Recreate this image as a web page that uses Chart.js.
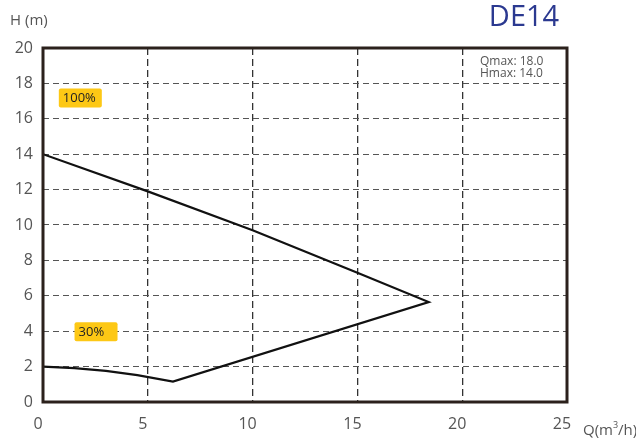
<!DOCTYPE html>
<html>
<head>
<meta charset="utf-8">
<script src="https://cdn.jsdelivr.net/npm/chart.js@4"></script>
<style>
  html, body { margin: 0; padding: 0; background: #fff; }
  #wrap { width: 636px; height: 439px; position: relative; }
</style>
</head>
<body>
<div id="wrap"><canvas id="chart"></canvas></div>
<script>
// pump curve (Q in m3/h, H in m)
const flowQ = [0, 5, 10, 15, 18.4, 6.2, 4.5, 3, 1.5, 0];
const headH = [14, 11.9, 9.7, 7.3, 5.65, 1.15, 1.52, 1.76, 1.91, 2];

const xTicks = [0, 5, 10, 15, 20, 25];
const yTicks = [0, 2, 4, 6, 8, 10, 12, 14, 16, 18, 20];

const speedLabels = ['100%', '30%'];
const speedQ = [0.85, 1.6];
const speedH = [17.2, 4.0];

const modelName = 'DE14';
const maxNotes = ['Qmax: 18.0', 'Hmax: 14.0'];

const FONT = '"Open Sans", "Noto Sans", sans-serif';

const decorations = {
  id: 'decorations',
  afterDatasetsDraw(chart) {
    const { ctx, chartArea: a, scales } = chart;
    ctx.save();

    // frame
    ctx.strokeStyle = '#2b211c';
    ctx.lineWidth = 3;
    ctx.strokeRect(a.left, a.top, a.right - a.left, a.bottom - a.top);

    // speed tags
    ctx.font = '13px ' + FONT;
    ctx.textBaseline = 'middle';
    ctx.textAlign = 'left';
    speedLabels.forEach((txt, i) => {
      const x = scales.x.getPixelForValue(speedQ[i]);
      const y = scales.y.getPixelForValue(speedH[i]);
      ctx.fillStyle = '#fdc815';
      ctx.beginPath();
      ctx.roundRect(x - 2, y - 9, 43, 19, 2);
      ctx.fill();
      ctx.fillStyle = '#222';
      ctx.fillText(txt, x + 2, y + 1);
    });

    // Qmax / Hmax note
    ctx.fillStyle = '#555';
    ctx.font = '12px ' + FONT;
    maxNotes.forEach((t, i) => ctx.fillText(t, 480, 62 + i * 12));

    // axis names
    ctx.font = '15px ' + FONT;
    ctx.fillStyle = '#555';
    ctx.fillText('H (m)', 10, 21);
    ctx.fillText('Q(m', 583, 431);
    let w = ctx.measureText('Q(m').width;
    ctx.font = '9px ' + FONT;
    ctx.fillText('3', 583 + w, 425);
    ctx.font = '15px ' + FONT;
    ctx.fillText('/h)', 583 + w + 5, 431);

    // model name
    ctx.fillStyle = '#2b3990';
    ctx.font = '29px ' + FONT;
    ctx.textAlign = 'center';
    ctx.fillText(modelName, 524, 18);

    ctx.restore();
  }
};

new Chart(document.getElementById('chart'), {
  type: 'scatter',
  data: {
    datasets: [{
      data: flowQ.map((q, i) => ({ x: q, y: headH[i] })),
      showLine: true,
      borderColor: '#111',
      borderWidth: 2.2,
      pointRadius: 0,
      tension: 0,
    }],
  },
  options: {
    responsive: true,
    maintainAspectRatio: false,
    animation: false,
    layout: { padding: { top: 48, right: 69, left: 0, bottom: 0 } },
    plugins: {
      legend: { display: false },
      tooltip: { enabled: false },
    },
    scales: {
      x: {
        type: 'linear',
        min: 0,
        max: 25,
        afterBuildTicks: (s) => { s.ticks = xTicks.map((v) => ({ value: v })); },
        afterFit: (s) => { s.height = 37; },
        ticks: {
          color: '#555',
          font: { family: FONT, size: 16 },
          padding: 13,
          labelOffset: -5,
        },
        grid: {
          color: '#333',
          lineWidth: 1.3,
          drawTicks: false,
        },
        border: { display: false, dash: [7, 4] },
      },
      y: {
        min: 0,
        max: 20,
        afterBuildTicks: (s) => { s.ticks = yTicks.map((v) => ({ value: v })); },
        afterFit: (s) => { s.width = 43; },
        ticks: {
          color: '#555',
          font: { family: FONT, size: 16 },
          padding: 10,
        },
        grid: {
          color: '#555',
          lineWidth: 1.1,
          drawTicks: false,
        },
        border: { display: false, dash: [6, 4] },
      },
    },
  },
  plugins: [decorations],
});
</script>
</body>
</html>
